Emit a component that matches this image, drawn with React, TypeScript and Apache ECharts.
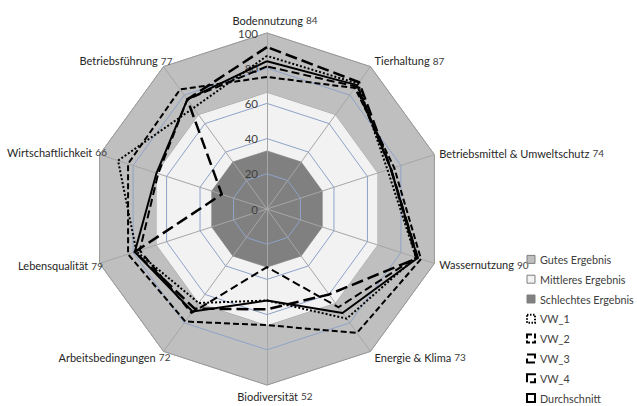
import React, { useEffect, useRef } from 'react';
import * as echarts from 'echarts';

// Categories in clockwise order starting at the top
const categories = [
  'Bodennutzung',
  'Tierhaltung',
  'Betriebsmittel & Umweltschutz',
  'Wassernutzung',
  'Energie & Klima',
  'Biodiversität',
  'Arbeitsbedingungen',
  'Lebensqualität',
  'Wirtschaftlichkeit',
  'Betriebsführung',
];

const gutesErgebnis = [100, 100, 100, 100, 100, 100, 100, 100, 100, 100];
const mittleresErgebnis = [66, 66, 66, 66, 66, 66, 66, 66, 66, 66];
const schlechtesErgebnis = [33, 33, 33, 33, 33, 33, 33, 33, 33, 33];

const vw1 = [87, 88, 72, 89, 77, 52, 66, 78, 89, 71];
const vw2 = [75, 85, 76, 92, 87, 66, 79, 83, 83, 84];
const vw3 = [92, 89, 74, 90, 60, 57, 70, 79, 27, 77];
const vw4 = [81, 86, 74, 89, 69, 33, 73, 76, 65, 77];
const durchschnitt = [84, 87, 74, 90, 73, 52, 72, 79, 66, 77];

const axisMin = 0;
const axisMax = 100;

const FONT = 'Lato, "Open Sans", sans-serif';

// name label styling per category (padding used to nudge labels like the original)
const namePadding: Record<string, number[]> = {
  Bodennutzung: [0, 0, 0, 16],
  Biodiversität: [0, 0, 0, 16],
  Betriebsführung: [0, -13, 0, 0],
  Wirtschaftlichkeit: [0, -14, 0, 0],
  Lebensqualität: [0, -10, 0, 0],
  Arbeitsbedingungen: [0, -11, 0, 0],
};
const nameGapOf: Record<string, number> = {
  'Betriebsmittel & Umweltschutz': 5,
  Wassernutzung: 5,
  Biodiversität: 5,
};

// ECharts radar places indicators counter-clockwise; reorder so that they run clockwise
const n = categories.length;
const order = [0, ...Array.from({ length: n - 1 }, (_, i) => n - 1 - i)];
const reorder = (arr: any[]) => order.map((i) => arr[i]);

export default function App() {
  const ref = useRef<HTMLDivElement>(null);

  useEffect(() => {
    if (!ref.current) return;
    const chart = echarts.init(ref.current, undefined, { renderer: 'svg' });

    const avgByName: Record<string, number> = {};
    categories.forEach((c, i) => (avgByName[c] = durchschnitt[i]));

    const indicatorsBase = reorder(categories).map((c) => ({ name: c, min: axisMin, max: axisMax }));
    const indicatorsTop = indicatorsBase.map((ind, i) => {
      const o: any = { ...ind, nameGap: nameGapOf[ind.name] ?? 7 };
      if (namePadding[ind.name]) o.nameTextStyle = { padding: namePadding[ind.name] };
      if (i === 0) o.axisLabel = { show: true };
      return o;
    });

    const center = [267, 209];
    const radius = 176;

    const bandSeries = (name: string, values: number[], color: string) => ({
      type: 'radar',
      name,
      radarIndex: 0,
      z: 1,
      symbol: 'none',
      silent: true,
      lineStyle: { color: '#a0a0a0', width: 1 },
      itemStyle: { color },
      areaStyle: { color, opacity: 1 },
      data: [{ name, value: reorder(values) }],
    });

    const lineSeries = (name: string, values: number[], type: any, width: number) => ({
      type: 'radar',
      name,
      radarIndex: 1,
      z: 5,
      symbol: 'none',
      silent: true,
      lineStyle: { color: '#000', width, type },
      itemStyle: { color: '#000' },
      data: [{ name, value: reorder(values) }],
    });

    const option: any = {
      animation: false,
      textStyle: { fontFamily: FONT },
      radar: [
        {
          center,
          radius,
          shape: 'polygon',
          splitNumber: 5,
          startAngle: 90,
          indicator: indicatorsBase,
          axisName: { show: false },
          axisLine: { show: false },
          splitLine: { show: false },
          splitArea: { show: false },
          axisLabel: { show: false },
          axisTick: { show: false },
          z: 0,
        },
        {
          center,
          radius,
          shape: 'polygon',
          splitNumber: 5,
          startAngle: 90,
          z: 3,
          indicator: indicatorsTop,
          axisNameGap: 7,
          axisName: {
            show: true,
            formatter: (name: string) => `{n|${name}} {v|${avgByName[name]}}`,
            rich: {
              n: { fontSize: 11, color: '#262626', fontFamily: FONT },
              v: { fontSize: 10, color: '#404040', fontFamily: FONT },
            },
          },
          axisLine: { show: true, lineStyle: { color: '#a6a6a6', width: 1 } },
          splitLine: {
            show: true,
            lineStyle: {
              color: ['#8fa2c9', '#8fa2c9', '#8fa2c9', '#8fa2c9', '#8fa2c9', '#9a9a9a'],
              width: 1,
            },
          },
          splitArea: { show: false },
          axisTick: { show: false },
          axisLabel: {
            show: false,
            color: '#404040',
            fontSize: 11.5,
            fontFamily: FONT,
            margin: 9,
          },
        },
      ],
      legend: {
        orient: 'vertical',
        left: 526,
        top: 253,
        height: 160,
        padding: 0,
        itemWidth: 8,
        itemHeight: 8,
        itemGap: 7,
        selectedMode: false,
        textStyle: { fontSize: 10.8, color: '#404040', fontFamily: FONT, lineHeight: 12.8 },
        data: [
          { name: 'Gutes Ergebnis', icon: 'rect', itemStyle: { color: '#bfbfbf', borderColor: '#7f7f7f', borderWidth: 1 } },
          { name: 'Mittleres Ergebnis', icon: 'rect', itemStyle: { color: '#f2f2f2', borderColor: '#7f7f7f', borderWidth: 1 } },
          { name: 'Schlechtes Ergebnis', icon: 'rect', itemStyle: { color: '#808080', borderColor: '#7f7f7f', borderWidth: 1 } },
          { name: 'VW_1', icon: 'rect', itemStyle: { color: '#fff', borderColor: '#000', borderWidth: 2, borderType: [1.5, 1.5] } },
          { name: 'VW_2', icon: 'rect', itemStyle: { color: '#fff', borderColor: '#000', borderWidth: 2, borderType: [5, 2] } },
          { name: 'VW_3', icon: 'rect', itemStyle: { color: '#fff', borderColor: '#000', borderWidth: 2, borderType: [12, 4] } },
          { name: 'VW_4', icon: 'rect', itemStyle: { color: '#fff', borderColor: '#000', borderWidth: 2, borderType: [9, 3] } },
          { name: 'Durchschnitt', icon: 'rect', itemStyle: { color: '#fff', borderColor: '#000', borderWidth: 2 } },
        ],
      },
      series: [
        bandSeries('Gutes Ergebnis', gutesErgebnis, '#bfbfbf'),
        bandSeries('Mittleres Ergebnis', mittleresErgebnis, '#f2f2f2'),
        bandSeries('Schlechtes Ergebnis', schlechtesErgebnis, '#808080'),
        lineSeries('VW_1', vw1, [2, 2], 2),
        lineSeries('VW_2', vw2, [6, 3], 2),
        lineSeries('VW_3', vw3, [12, 5], 2.5),
        lineSeries('VW_4', vw4, [8, 4], 2),
        lineSeries('Durchschnitt', durchschnitt, 'solid', 2),
      ],
    };

    chart.setOption(option);
    return () => chart.dispose();
  }, []);

  return (
    <div
      ref={ref}
      style={{ position: 'absolute', left: 0, top: 0, width: 637, height: 406, background: '#fff' }}
    />
  );
}
